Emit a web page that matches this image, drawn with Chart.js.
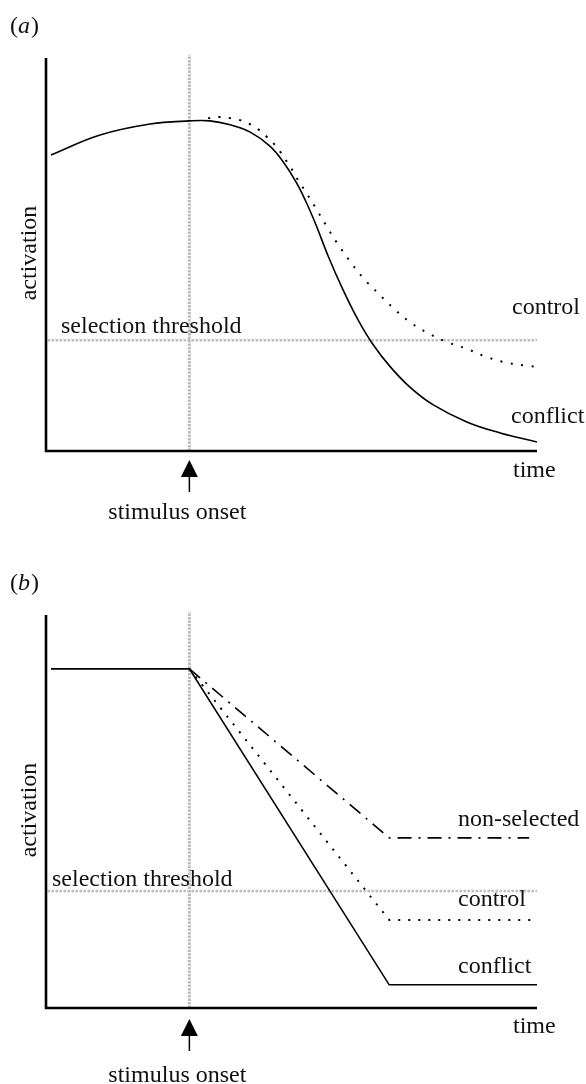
<!DOCTYPE html>
<html>
<head>
<meta charset="utf-8">
<script src="https://cdn.jsdelivr.net/npm/chart.js@4.4.0/dist/chart.umd.min.js"></script>
<style>
html, body { margin: 0; padding: 0; background: #fff; }
canvas { display: block; }
</style>
</head>
<body>
<canvas id="chartA" width="586" height="557"></canvas>
<canvas id="chartB" width="586" height="527"></canvas>
<script>
// time and activation are both in % of the axis length
const onsetTime = 29.2;

// panel (a)
const aThreshold = 28.2;
const aConflictTime = [1.0, 11.0, 21.2, 29.3, 33.4, 37.5, 41.5, 45.6, 48.3, 51.0, 53.0, 55.0, 57.5, 60.5, 63.5, 66.5, 70.0, 74.0, 78.8, 85.7, 92.5, 100];
const aConflict = [75.3, 80.4, 83.2, 84.0, 84.0, 83.0, 81.2, 77.6, 73.6, 68.3, 63.3, 57.5, 49.5, 41.0, 33.5, 27.3, 21.6, 16.4, 11.8, 7.4, 4.6, 2.3];
const aControlTime = [33.0, 35.4, 37.5, 39.5, 41.5, 43.4, 45.0, 46.6, 47.9, 49.1, 50.3, 51.3, 52.5, 54.8, 57.0, 59.3, 61.9, 64.6, 67.6, 70.7, 74.1, 77.8, 81.7, 85.7, 89.8, 94.1, 98.6, 100.6];
const aControl = [84.7, 85.0, 84.7, 84.2, 83.2, 81.7, 79.9, 77.9, 75.8, 73.5, 71.2, 69.0, 66.7, 62.1, 57.5, 52.9, 48.3, 44.0, 40.2, 36.4, 32.8, 30.0, 27.7, 26.0, 23.9, 22.4, 21.6, 21.4];
const aLabels = ['control', 'conflict'];

// panel (b)
const bThreshold = 29.8;
const bConflictTime = [1.0, 29.2, 69.9, 100];
const bConflict = [86.3, 86.3, 5.9, 5.9];
const bControlTime = [29.2, 69.9, 99.4];
const bControl = [86.3, 22.4, 22.4];
const bNonSelTime = [29.2, 69.9, 98.4];
const bNonSel = [86.3, 43.3, 43.3];
const bLabels = ['non-selected', 'control', 'conflict'];

const FONT = '"Liberation Serif", "Times New Roman", serif';
const GREY = '#bdbdbd';

function pts(xs, ys) {
    return xs.map((x, i) => ({x: x, y: ys[i]}));
}

function refLines(threshold) {
    return [{
        data: [{x: 0.3, y: threshold}, {x: 100, y: threshold}],
        borderColor: GREY, borderWidth: 2.5, borderDash: [2.5, 1.5]
    }, {
        data: [{x: onsetTime, y: 0}, {x: onsetTime, y: 100.8}],
        borderColor: GREY, borderWidth: 3, borderDash: [2.5, 1], clip: false
    }];
}

const sketchPlugin = {
    id: 'sketch',
    afterDraw(chart, args, o) {
        const ctx = chart.ctx;
        const ca = chart.chartArea;
        const ox = chart.scales.x.getPixelForValue(onsetTime);
        ctx.save();
        // axes
        ctx.strokeStyle = '#000';
        ctx.lineWidth = 2.6;
        ctx.beginPath();
        ctx.moveTo(ca.left, ca.top);
        ctx.lineTo(ca.left, ca.bottom);
        ctx.lineTo(ca.right, ca.bottom);
        ctx.stroke();
        // stimulus onset arrow
        const tip = ca.bottom + o.arrowGap;
        ctx.fillStyle = '#000';
        ctx.beginPath();
        ctx.moveTo(ox, tip);
        ctx.lineTo(ox - 8.5, tip + 17);
        ctx.lineTo(ox + 8.5, tip + 17);
        ctx.closePath();
        ctx.fill();
        ctx.lineWidth = 1.5;
        ctx.beginPath();
        ctx.moveTo(ox, tip + 16);
        ctx.lineTo(ox, tip + 32);
        ctx.stroke();
        // texts
        ctx.fillStyle = '#111';
        ctx.font = '24px ' + FONT;
        ctx.textBaseline = 'alphabetic';
        ctx.textAlign = 'left';
        o.texts.forEach(t => ctx.fillText(t.s, t.x, t.y));
        ctx.textAlign = 'center';
        ctx.fillText('stimulus onset', ox - 12, o.onsetY);
        // panel letter: (a) / (b)
        ctx.textAlign = 'left';
        let px = 10;
        ctx.fillText('(', px, 33);
        px += ctx.measureText('(').width;
        ctx.font = 'italic 24px ' + FONT;
        ctx.fillText(o.letter, px, 33);
        px += ctx.measureText(o.letter).width + 1;
        ctx.font = '24px ' + FONT;
        ctx.fillText(')', px, 33);
        // y axis title
        ctx.translate(36, 253);
        ctx.rotate(-Math.PI / 2);
        ctx.textAlign = 'center';
        ctx.fillText('activation', 0, 0);
        ctx.restore();
    }
};

function makeChart(id, datasets, bottomPad, pluginOpts) {
    return new Chart(document.getElementById(id), {
        type: 'line',
        data: {datasets: datasets},
        options: {
            responsive: false,
            animation: false,
            layout: {padding: {left: 46, right: 49, top: 58, bottom: bottomPad}},
            scales: {
                x: {type: 'linear', min: 0, max: 100, display: false},
                y: {type: 'linear', min: 0, max: 100, display: false}
            },
            elements: {point: {radius: 0}, line: {fill: false, borderCapStyle: 'butt'}},
            plugins: {legend: {display: false}, tooltip: {enabled: false}, sketch: pluginOpts}
        },
        plugins: [sketchPlugin]
    });
}

makeChart('chartA', [{
    data: pts(aConflictTime, aConflict),
    borderColor: '#000', borderWidth: 1.6, tension: 0.4
}, {
    data: pts(aControlTime, aControl),
    borderColor: '#000', borderWidth: 2, borderDash: [2, 8.5], tension: 0.4, clip: false
}].concat(refLines(aThreshold)), 106, {
    letter: 'a',
    arrowGap: 9,
    onsetY: 519,
    texts: [
        {s: 'selection threshold', x: 61, y: 333},
        {s: aLabels[0], x: 512, y: 314},
        {s: aLabels[1], x: 511, y: 423},
        {s: 'time', x: 513, y: 477}
    ]
});

makeChart('chartB', [{
    data: pts(bConflictTime, bConflict),
    borderColor: '#000', borderWidth: 1.6
}, {
    data: pts(bControlTime, bControl),
    borderColor: '#000', borderWidth: 2, borderDash: [2, 8]
}, {
    data: pts(bNonSelTime, bNonSel),
    borderColor: '#000', borderWidth: 1.6, borderDash: [14, 7, 2, 7]
}].concat(refLines(bThreshold)), 76, {
    letter: 'b',
    arrowGap: 11,
    onsetY: 525,
    texts: [
        {s: 'selection threshold', x: 52, y: 329},
        {s: bLabels[0], x: 458, y: 269},
        {s: bLabels[1], x: 458, y: 349},
        {s: bLabels[2], x: 458, y: 416},
        {s: 'time', x: 513, y: 476}
    ]
});
</script>
</body>
</html>
